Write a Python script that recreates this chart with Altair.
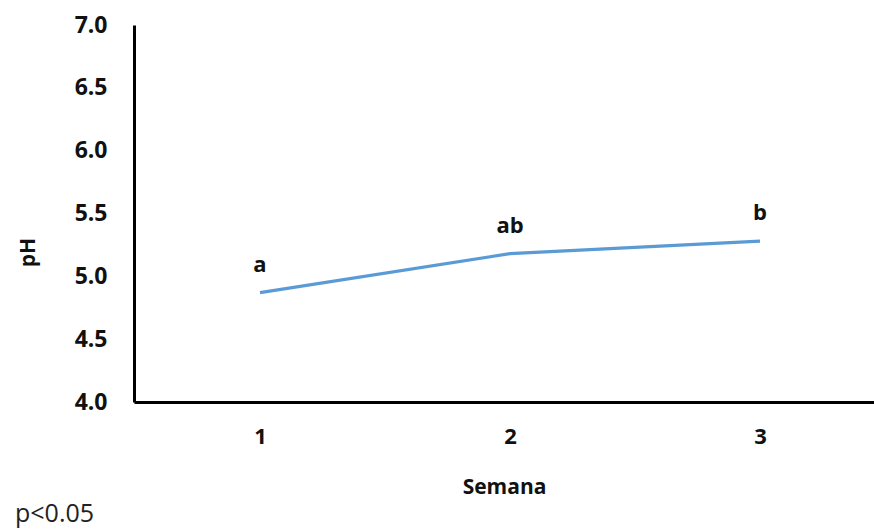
import altair as alt
import pandas as pd

# Weekly pH means with significance letters
semana = [1, 2, 3]
ph = [4.87, 5.18, 5.28]
letras = ["a", "ab", "b"]

df = pd.DataFrame({"Semana": semana, "pH": ph, "letra": letras})

FONT = "Open Sans"

x_enc = alt.X(
    "Semana:Q",
    scale=alt.Scale(domain=[0.496, 3.456], nice=False, zero=False),
    axis=alt.Axis(
        values=[1, 2, 3], format="d", title="Semana", grid=False, ticks=False,
        domainColor="black", domainWidth=3,
        labelFont=FONT, labelFontWeight="bold", labelFontSize=22, labelColor="#111",
        labelPadding=24,
        titleFont=FONT, titleFontWeight="bold", titleFontSize=21, titleColor="#111",
        titleY=85, titleBaseline="middle",
    ),
)
y_enc = alt.Y(
    "pH:Q",
    scale=alt.Scale(domain=[4.0, 7.0], nice=False, zero=False),
    axis=alt.Axis(
        values=[4.0, 4.5, 5.0, 5.5, 6.0, 6.5, 7.0], format=".1f", title="pH",
        grid=False, ticks=False, domainColor="black", domainWidth=3,
        labelFont=FONT, labelFontWeight="bold", labelFontSize=23, labelColor="#111",
        labelPadding=27,
        titleFont=FONT, titleFontWeight="bold", titleFontSize=21, titleColor="#111",
        titleX=-106, titleY=227, titleAngle=270, titleBaseline="middle", titleAlign="center",
    ),
)

base = alt.Chart(df)

line = base.mark_line(color="#5B9BD5", strokeWidth=3.2).encode(x=x_enc, y=y_enc)

labels = base.mark_text(
    font=FONT, fontWeight="bold", fontSize=22, color="#111", dy=-28, baseline="middle"
).encode(x="Semana:Q", y="pH:Q", text="letra:N")

nota = alt.Chart(pd.DataFrame({"t": ["p<0.05"]})).mark_text(
    font=FONT, fontSize=25, color="#222", align="left", baseline="middle"
).encode(x=alt.value(-119), y=alt.value(489), text="t:N")

chart = (
    alt.layer(line, labels, nota)
    .properties(
        width=740, height=377,
        autosize=alt.AutoSizeParams(type="none"),
        padding={"left": 134, "top": 25, "right": 0, "bottom": 129},
        background="white",
    )
    .configure_view(stroke=None)
)

chart.save("out.html", embed_options={"renderer": "svg", "actions": False})
